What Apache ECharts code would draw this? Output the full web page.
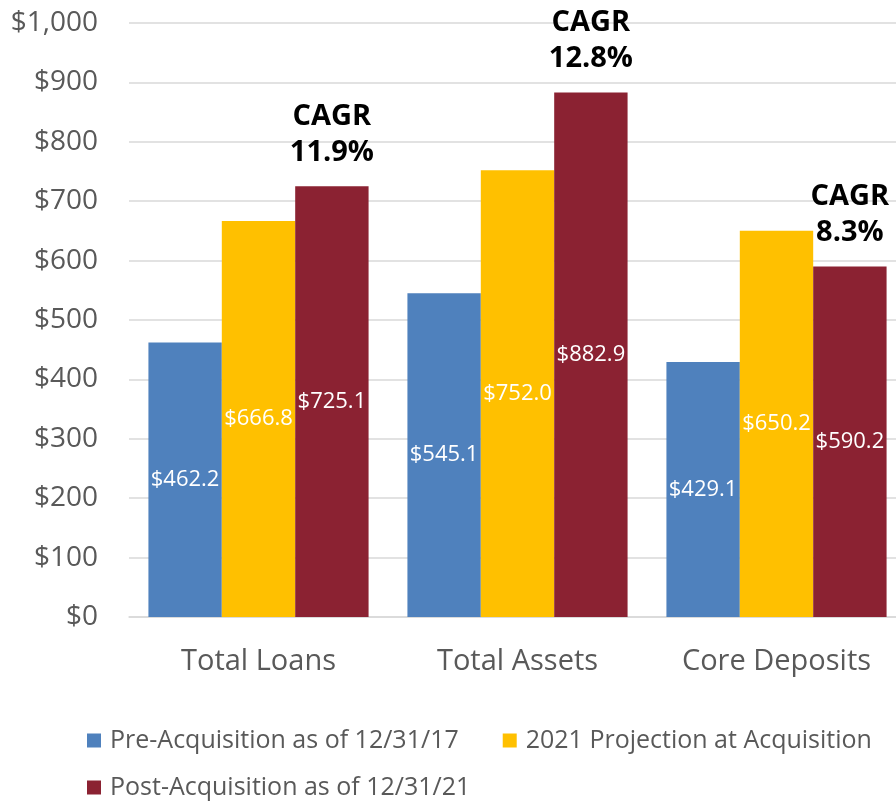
<!DOCTYPE html>
<html>
<head>
<meta charset="utf-8">
<script src="https://cdn.jsdelivr.net/npm/echarts@6/dist/echarts.min.js"></script>
<style>
  html, body { margin: 0; padding: 0; background: #fff; }
  #chart { width: 896px; height: 803px; }
</style>
</head>
<body>
<div id="chart"></div>
<script>
// chart data
var categories = ['Total Loans', 'Total Assets', 'Core Deposits'];
var preAcquisition = [462.2, 545.1, 429.1];
var projection2021 = [666.8, 752.0, 650.2];
var postAcquisition = [725.1, 882.9, 590.2];
var cagrLabels = ['11.9%', '12.8%', '8.3%'];
var seriesNames = [
  'Pre-Acquisition as of 12/31/17',
  '2021 Projection at Acquisition',
  'Post-Acquisition as of 12/31/21'
];

var font = '"Open Sans", "Noto Sans", sans-serif';
var grey = '#595959';

function money(v) {
  return '$' + v.toFixed(1);
}

var valueLabel = {
  show: true,
  position: 'inside',
  color: '#fff',
  fontSize: 22,
  fontFamily: font,
  formatter: function (p) { return money(p.value); }
};

var legendText = { fontSize: 25, color: grey, fontFamily: font, padding: [0, 0, 0, 4] };

var option = {
  animation: false,
  textStyle: { fontFamily: font },
  // the plot area runs a little past the right edge, like the original
  grid: { left: 129, width: 777, top: 23, bottom: 186, outerBoundsMode: 'none' },
  legend: [
    {
      data: [seriesNames[0], seriesNames[1]],
      left: 82, top: 723,
      itemWidth: 14, itemHeight: 14, itemGap: 44,
      icon: 'rect',
      textStyle: legendText
    },
    {
      data: [seriesNames[2]],
      left: 82, top: 770,
      itemWidth: 14, itemHeight: 14,
      icon: 'rect',
      textStyle: legendText
    }
  ],
  xAxis: {
    type: 'category',
    data: categories,
    axisLine: { lineStyle: { color: '#D9D9D9', width: 1.5 } },
    axisTick: { show: false },
    axisLabel: { fontSize: 29, color: grey, margin: 30, fontFamily: font }
  },
  yAxis: {
    type: 'value',
    min: 0, max: 1000, interval: 100,
    axisLine: { show: false },
    axisTick: { show: false },
    splitLine: { lineStyle: { color: '#D9D9D9', width: 1.5 } },
    axisLabel: {
      fontSize: 28, color: grey, margin: 31, fontFamily: font,
      formatter: function (v) { return '$' + v.toLocaleString('en-US'); }
    }
  },
  series: [
    {
      name: seriesNames[0], type: 'bar', data: preAcquisition,
      barGap: '0%', barCategoryGap: '15%',
      itemStyle: { color: '#4F81BD' },
      label: valueLabel
    },
    {
      name: seriesNames[1], type: 'bar', data: projection2021,
      itemStyle: { color: '#FFC000' },
      label: valueLabel
    },
    {
      name: seriesNames[2], type: 'bar', data: postAcquisition, stack: 'post',
      itemStyle: { color: '#8B2232' },
      label: valueLabel
    },
    {
      // zero-height bar on top of the red one, only carries the CAGR text
      name: 'cagr', type: 'bar', stack: 'post',
      data: cagrLabels.map(function () { return 0; }),
      itemStyle: { color: 'transparent' },
      silent: true,
      label: {
        show: true,
        position: 'top',
        distance: 16,
        color: '#000',
        fontSize: 29,
        fontWeight: 'bold',
        lineHeight: 36,
        fontFamily: font,
        formatter: function (p) { return 'CAGR\n' + cagrLabels[p.dataIndex]; }
      }
    }
  ]
};

var chart = echarts.init(document.getElementById('chart'));
chart.setOption(option);
</script>
</body>
</html>
